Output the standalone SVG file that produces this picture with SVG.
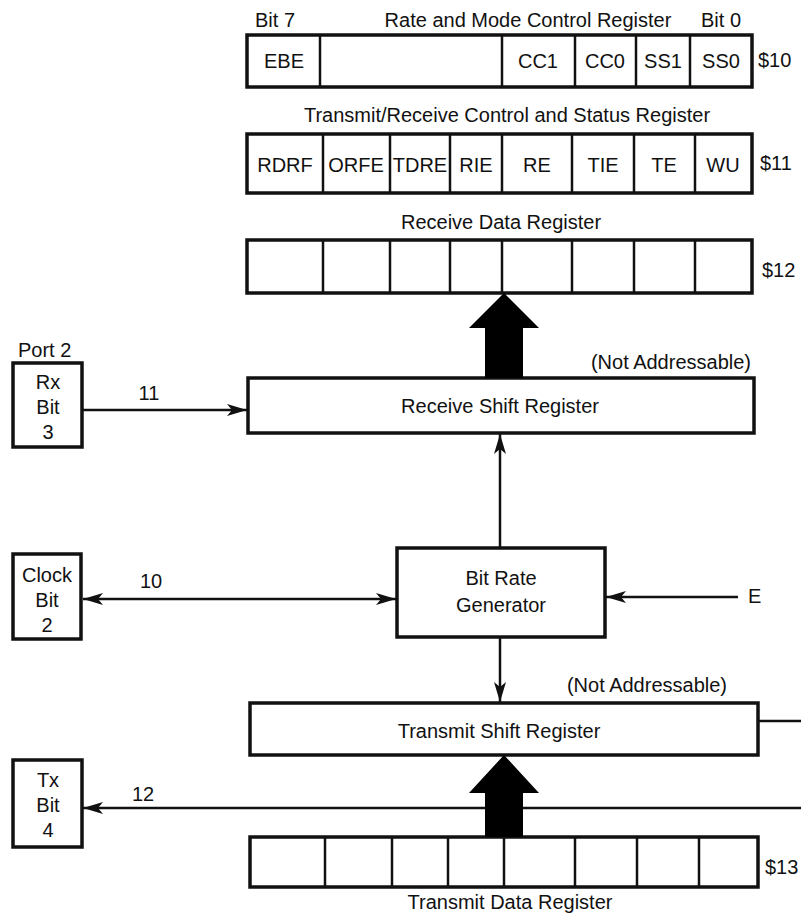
<svg xmlns="http://www.w3.org/2000/svg" width="801" height="915" viewBox="0 0 801 915">
<style>
  text { font-family: "Liberation Sans", Arial, sans-serif; font-size: 20px; fill: #111; }
  .c { text-anchor: middle; }
  .e { text-anchor: end; }
  .box { fill: #fff; stroke: #111; stroke-width: 3.5; }
  .div { stroke: #111; stroke-width: 2.5; }
  .ln { stroke: #111; stroke-width: 2.5; fill: none; }
  .big { fill: #000; stroke: none; }
</style>
<defs>
  <marker id="ah" viewBox="0 0 20 12" refX="20" refY="6" markerWidth="20" markerHeight="12" markerUnits="userSpaceOnUse" orient="auto-start-reverse">
    <path d="M0,0 L20,6 L0,12 L5,6 Z" fill="#111"/>
  </marker>
</defs>
<rect width="801" height="915" fill="#fff"/>

<g id="reg-rmcr">
  <text x="255" y="27">Bit 7</text>
  <text x="528" y="27" class="c">Rate and Mode Control Register</text>
  <text x="721" y="27" class="c">Bit 0</text>
  <rect class="box" x="247" y="35" width="505" height="52"/>
  <line class="div" x1="320" y1="35" x2="320" y2="87"/>
  <line class="div" x1="502" y1="35" x2="502" y2="87"/>
  <line class="div" x1="575" y1="35" x2="575" y2="87"/>
  <line class="div" x1="636" y1="35" x2="636" y2="87"/>
  <line class="div" x1="690" y1="35" x2="690" y2="87"/>
  <text x="284" y="68" class="c">EBE</text>
  <text x="538" y="68" class="c">CC1</text>
  <text x="605" y="68" class="c">CC0</text>
  <text x="663" y="68" class="c">SS1</text>
  <text x="721" y="68" class="c">SS0</text>
  <text x="758" y="67">$10</text>
</g>

<g id="reg-trcsr">
  <text x="507" y="122" class="c">Transmit/Receive Control and Status Register</text>
  <rect class="box" x="247" y="134" width="505" height="59"/>
  <line class="div" x1="323" y1="134" x2="323" y2="193"/>
  <line class="div" x1="390" y1="134" x2="390" y2="193"/>
  <line class="div" x1="450" y1="134" x2="450" y2="193"/>
  <line class="div" x1="502" y1="134" x2="502" y2="193"/>
  <line class="div" x1="572" y1="134" x2="572" y2="193"/>
  <line class="div" x1="634" y1="134" x2="634" y2="193"/>
  <line class="div" x1="695" y1="134" x2="695" y2="193"/>
  <text x="285" y="172" class="c">RDRF</text>
  <text x="356" y="172" class="c">ORFE</text>
  <text x="420" y="172" class="c">TDRE</text>
  <text x="476" y="172" class="c">RIE</text>
  <text x="537" y="172" class="c">RE</text>
  <text x="603" y="172" class="c">TIE</text>
  <text x="664" y="172" class="c">TE</text>
  <text x="723" y="172" class="c">WU</text>
  <text x="760" y="170">$11</text>
</g>

<g id="reg-rdr">
  <text x="501" y="229" class="c">Receive Data Register</text>
  <rect class="box" x="247" y="240" width="505" height="53"/>
  <line class="div" x1="323" y1="240" x2="323" y2="293"/>
  <line class="div" x1="390" y1="240" x2="390" y2="293"/>
  <line class="div" x1="450" y1="240" x2="450" y2="293"/>
  <line class="div" x1="502" y1="240" x2="502" y2="293"/>
  <line class="div" x1="572" y1="240" x2="572" y2="293"/>
  <line class="div" x1="634" y1="240" x2="634" y2="293"/>
  <line class="div" x1="695" y1="240" x2="695" y2="293"/>
  <text x="762" y="277">$12</text>
</g>

<g id="rsr">
  <text x="751" y="369" class="e">(Not Addressable)</text>
  <rect class="box" x="248" y="378" width="506" height="55"/>
  <text x="500" y="413" class="c">Receive Shift Register</text>
</g>

<g id="port-rx">
  <text x="18" y="357">Port 2</text>
  <rect class="box" x="13" y="363" width="69" height="84"/>
  <text x="48" y="389" class="c">Rx</text>
  <text x="48" y="414" class="c">Bit</text>
  <text x="48" y="439" class="c">3</text>
</g>

<g id="port-clock">
  <rect class="box" x="13" y="554" width="68" height="85"/>
  <text x="47" y="582" class="c">Clock</text>
  <text x="47" y="607" class="c">Bit</text>
  <text x="47" y="632" class="c">2</text>
</g>

<g id="brg">
  <rect class="box" x="397" y="548" width="208" height="89"/>
  <text x="501" y="585" class="c">Bit Rate</text>
  <text x="501" y="612" class="c">Generator</text>
</g>

<g id="input-e">
  <text x="748" y="603">E</text>
</g>

<g id="tsr">
  <text x="727" y="692" class="e">(Not Addressable)</text>
  <rect class="box" x="250" y="703" width="508" height="52"/>
  <text x="499" y="738" class="c">Transmit Shift Register</text>
</g>

<g id="port-tx">
  <rect class="box" x="13" y="760" width="69" height="87"/>
  <text x="48" y="787" class="c">Tx</text>
  <text x="48" y="812" class="c">Bit</text>
  <text x="48" y="837" class="c">4</text>
</g>

<g id="reg-tdr">
  <rect class="box" x="250" y="837" width="508" height="50"/>
  <line class="div" x1="325" y1="837" x2="325" y2="887"/>
  <line class="div" x1="392" y1="837" x2="392" y2="887"/>
  <line class="div" x1="448" y1="837" x2="448" y2="887"/>
  <line class="div" x1="504" y1="837" x2="504" y2="887"/>
  <line class="div" x1="575" y1="837" x2="575" y2="887"/>
  <line class="div" x1="637" y1="837" x2="637" y2="887"/>
  <line class="div" x1="699" y1="837" x2="699" y2="887"/>
  <text x="765" y="874">$13</text>
  <text x="510" y="909" class="c">Transmit Data Register</text>
</g>

<g id="connectors">
  <line class="ln" x1="82" y1="410" x2="247" y2="410" marker-end="url(#ah)"/>
  <text x="149" y="400" class="c">11</text>
  <line class="ln" x1="83" y1="599" x2="396" y2="599" marker-start="url(#ah)" marker-end="url(#ah)"/>
  <text x="151" y="588" class="c">10</text>
  <line class="ln" x1="738" y1="597" x2="606" y2="597" marker-end="url(#ah)"/>
  <line class="ln" x1="500" y1="548" x2="500" y2="434" marker-end="url(#ah)"/>
  <line class="ln" x1="500" y1="637" x2="500" y2="702" marker-end="url(#ah)"/>
  <line class="ln" x1="758" y1="721" x2="801" y2="721"/>
  <line class="ln" x1="801" y1="808" x2="83" y2="808" marker-end="url(#ah)"/>
  <text x="143" y="801" class="c">12</text>
  <polygon class="big" points="504,293 539,328 523,328 523,378 485,378 485,328 469,328"/>
  <polygon class="big" points="504,755 539,793 523,793 523,837 485,837 485,793 469,793"/>
</g>
</svg>
